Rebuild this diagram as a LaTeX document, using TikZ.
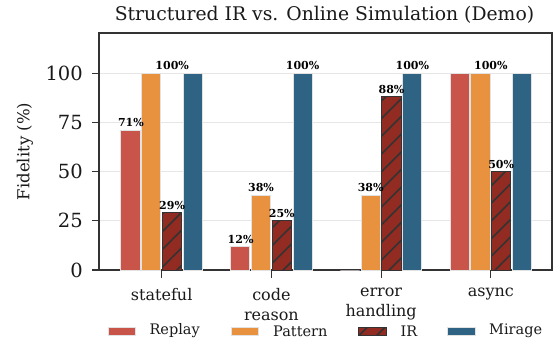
\documentclass[tikz,border=0pt]{standalone}
\usepackage{fontspec}
\setmainfont{DejaVu Serif}
\usetikzlibrary{patterns.meta}
\definecolor{replayc}{HTML}{C9544A}
\definecolor{patternc}{HTML}{E8913F}
\definecolor{irc}{HTML}{922B21}
\definecolor{miragec}{HTML}{2F6384}
\definecolor{spinec}{HTML}{333333}
\definecolor{gridc}{HTML}{E6E6E6}
\definecolor{edgec}{HTML}{E2E2E2}
\definecolor{txtc}{HTML}{1A1A1A}
\tikzset{
  barbase/.style={draw=edgec, line width=1pt},
  replaybar/.style={barbase, fill=replayc},
  patternbar/.style={barbase, fill=patternc},
  irbar/.style={draw=spinec, line width=1pt, fill=irc,
    postaction={pattern={Lines[angle=45,distance=12.5pt,line width=1.6pt]}, pattern color=spinec}},
  miragebar/.style={barbase, fill=miragec},
  spine/.style={draw=spinec, line width=1.3pt},
  gridline/.style={draw=gridc, line width=1pt},
  tickmark/.style={draw=spinec, line width=1.2pt},
  ytick/.style={anchor=east, inner sep=0pt, text=txtc, font=\fontsize{19.5}{21}\selectfont},
  xtick/.style={anchor=north, inner sep=0pt, align=center, text=txtc, font=\fontsize{16}{20}\selectfont},
  vallabel/.style={inner sep=0pt, text=black, font=\fontsize{11}{12}\selectfont\bfseries},
  legtext/.style={anchor=west, inner sep=0pt, text=txtc, font=\fontsize{14.5}{16}\selectfont},
}
\begin{document}
\begin{tikzpicture}[x=1pt,y=-1pt]
\useasboundingbox[fill=white] (0,0) rectangle (559,341);
% title
\node[anchor=base, inner sep=0pt, text=txtc, font=\fontsize{18.8}{20}\selectfont] (title) at (324.5,20) {Structured IR vs. Online Simulation (Demo)};
% grid
\foreach \v in {25,50,75,100}{
  \draw[gridline] (99,{270-1.967*\v}) -- (552,{270-1.967*\v});
}
% spines
\draw[spine] (99,270) -- (99,33) -- (552,33) -- (552,270) -- cycle;
% bars
\foreach \g/\a/\b/\c/\d in {0/71/100/29/100, 1/12/38/25/100, 2/0/38/88/100, 3/100/100/50/100}{
  \pgfmathsetmacro\cx{161.7+109.7*\g}
  \draw[replaybar] ({\cx-40.8},270) rectangle ({\cx-21.6},{270-1.967*\a});
  \draw[patternbar] ({\cx-20},270) rectangle ({\cx-0.8},{270-1.967*\b});
  \draw[irbar] ({\cx+0.8},270) rectangle ({\cx+20},{270-1.967*\c});
  \draw[miragebar] ({\cx+21.6},270) rectangle ({\cx+40.8},{270-1.967*\d});
  \draw[tickmark] (\cx,270) -- (\cx,278);
}
% y ticks
\foreach \v in {0,25,50,75,100}{
  \draw[tickmark] (92,{270-1.967*\v}) -- (99,{270-1.967*\v});
  \node[ytick] (yt\v) at (83,{270-1.967*\v}) {\v};
}
\node[rotate=90, inner sep=0pt, text=txtc, font=\fontsize{16.5}{18}\selectfont] (ylab) at (25,151.5) {Fidelity (\%)};
% x tick labels
\node[xtick] (xl0) at (161.7,288) {stateful};
\node[xtick] (xl1) at (271.4,288) {code\\reason};
\node[xtick] (xl2) at (381.1,288) {error\\handling};
\node[xtick] (xl3) at (490.8,288) {async};
% value labels
\node[vallabel] (v0a) at (130.9,122.3) {71\%};
\node[vallabel] (v0b) at (172.2,65.5) {100\%};
\node[vallabel] (v0c) at (172.1,205.5) {29\%};
\node[vallabel] (v1a) at (240.6,239.3) {12\%};
\node[vallabel] (v1b) at (261.0,187.3) {38\%};
\node[vallabel] (v1c) at (281.8,213.3) {25\%};
\node[vallabel] (v1d) at (302.6,65.5) {100\%};
\node[vallabel] (v2b) at (370.7,187.3) {38\%};
\node[vallabel] (v2c) at (391.5,89) {88\%};
\node[vallabel] (v2d) at (412.3,65.5) {100\%};
\node[vallabel] (v3b) at (490.8,65.5) {100\%};
\node[vallabel] (v3c) at (501.2,164.3) {50\%};
% legend
\draw[replaybar] (108.5,327) rectangle (135.5,335);
\node[legtext] (lg1) at (149.3,331) {Replay};
\draw[patternbar] (231.7,327) rectangle (258.7,335);
\node[legtext] (lg2) at (273,331) {Pattern};
\draw[irbar] (358.5,327) rectangle (386,335);
\node[legtext] (lg3) at (400.5,331) {IR};
\draw[miragebar] (447.8,327) rectangle (475.5,335);
\node[legtext] (lg4) at (489,331) {Mirage};
\end{tikzpicture}
\end{document}
